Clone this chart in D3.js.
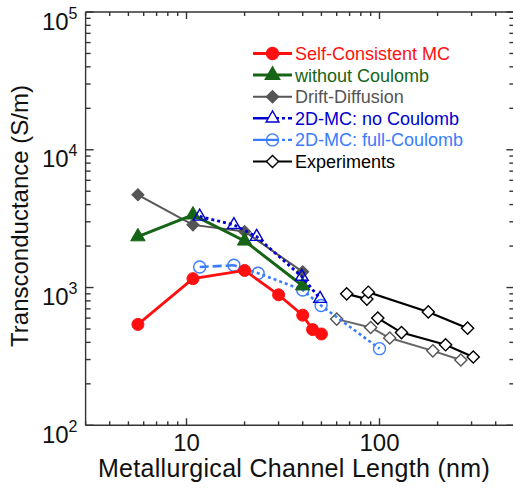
<!DOCTYPE html>
<html>
<head>
<meta charset="utf-8">
<script src="https://cdn.jsdelivr.net/npm/d3@7"></script>
<style>
  body { margin: 0; background: #fff; }
  svg { display: block; font-family: Arial, "Liberation Sans", sans-serif; }
</style>
</head>
<body>
<svg width="513" height="493"></svg>
<script>
const width = 513, height = 493;
const svg = d3.select("svg");

// series
const scX = [5.6, 10.8, 20, 30, 40, 45, 50];
const scY = [540, 1160, 1330, 885, 630, 495, 460];
const woX = [5.6, 10.8, 20, 40];
const woY = [2340, 3370, 2180, 1030];
const ddX = [5.6, 10.8, 20, 40];
const ddY = [4710, 2850, 2550, 1300];
const mcNoX = [11.7, 17.6, 23.1, 39.6, 49.2];
const mcNoY = [3280, 2850, 2340, 1200, 830];
const mcFullX = [11.7, 17.6, 23.5, 40, 49.8, 100];
const mcFullY = [1410, 1450, 1270, 960, 740, 360];
const expAX = [67.6, 86, 87.5, 179, 286];
const expAY = [900, 824, 925, 665, 507];
const expBX = [98, 130, 220, 306];
const expBY = [600, 471, 384, 313];
const expCX = [60, 90, 113, 189, 264];
const expCY = [590, 513, 430, 347, 298];

const legendLabels = ["Self-Consistent MC", "without Coulomb", "Drift-Diffusion",
  "2D-MC: no Coulomb", "2D-MC: full-Coulomb", "Experiments"];
const xTickLabels = ["10", "100"];
const yTickExps = [2, 3, 4, 5];

// scales
const x = d3.scaleLog().domain([3, 500]).range([85.6, 514.4]);
const y = d3.scaleLog().domain([100, 100000]).range([425.3, 12]);

const zip = (xs, ys) => xs.map((v, i) => [v, ys[i]]);
const line = d3.line().x(d => x(d[0])).y(d => y(d[1]));

// minor + major tick values
function logTicks(lo, hi) {
  const out = [];
  for (let e = Math.floor(Math.log10(lo)); e <= Math.ceil(Math.log10(hi)); e++) {
    for (let m = 1; m <= 9; m++) {
      const v = m * Math.pow(10, e);
      if (v >= lo * 0.999 && v <= hi * 1.001) out.push(v);
    }
  }
  return out;
}
const isMajor = v => Math.abs(Math.log10(v) - Math.round(Math.log10(v))) < 1e-9;

const axisColor = "#333";
const frame = svg.append("g").attr("stroke", axisColor).attr("stroke-width", 1.4);
const [x0, x1] = x.range(), [y1, y0] = y.range();
frame.append("line").attr("x1", x0).attr("x2", x1).attr("y1", y1).attr("y2", y1);
frame.append("line").attr("x1", x0).attr("x2", x1).attr("y1", y0).attr("y2", y0);
frame.append("line").attr("x1", x0).attr("x2", x0).attr("y1", y0).attr("y2", y1);
frame.append("line").attr("x1", x1).attr("x2", x1).attr("y1", y0).attr("y2", y1);

logTicks(3, 500).forEach(v => {
  const len = isMajor(v) ? 7 : 4;
  frame.append("line").attr("x1", x(v)).attr("x2", x(v)).attr("y1", y1).attr("y2", y1 - len);
  frame.append("line").attr("x1", x(v)).attr("x2", x(v)).attr("y1", y0).attr("y2", y0 + len);
});
logTicks(100, 100000).forEach(v => {
  const len = isMajor(v) ? 8 : 5;
  frame.append("line").attr("x1", x0).attr("x2", x0 + len).attr("y1", y(v)).attr("y2", y(v));
  frame.append("line").attr("x1", x1).attr("x2", x1 - len).attr("y1", y(v)).attr("y2", y(v));
});

// tick labels
svg.append("g").selectAll("text").data(xTickLabels).join("text")
  .attr("x", d => x(+d)).attr("y", 451)
  .attr("text-anchor", "middle").attr("font-size", 24).attr("fill", "#111")
  .text(d => d);

const yl = svg.append("g").selectAll("text").data(yTickExps).join("text")
  .attr("x", 77.5).attr("y", d => y(Math.pow(10, d)) + 17.5)
  .attr("text-anchor", "end").attr("font-size", 24).attr("fill", "#111");
yl.append("tspan").text("10");
yl.append("tspan").attr("font-size", 16).attr("dy", -11).text(d => d);

// axis titles
svg.append("text").attr("x", 294).attr("y", 477).attr("text-anchor", "middle")
  .attr("font-size", 25).attr("letter-spacing", 0.3).attr("fill", "#111")
  .text("Metallurgical Channel Length (nm)");
svg.append("text").attr("transform", "translate(28,216) rotate(-90)")
  .attr("text-anchor", "middle").attr("font-size", 24).attr("fill", "#111")
  .text("Transconductance (S/m)");

// marker helpers
const tri = d3.symbol().type(d3.symbolTriangle);
const sq = d3.symbol().type(d3.symbolSquare).size(74);

function drawMarkers(g, pts, kind, opt) {
  const sel = g.selectAll(null).data(pts).join(kind === "circle" ? "circle" : "path");
  if (kind === "circle") {
    sel.attr("cx", d => x(d[0])).attr("cy", d => y(d[1])).attr("r", opt.r);
  } else if (kind === "tri") {
    sel.attr("d", tri.size(opt.size)()).attr("transform", d => `translate(${x(d[0])},${y(d[1])})`);
  } else {
    sel.attr("d", sq()).attr("transform", d => `translate(${x(d[0])},${y(d[1])}) rotate(45)`);
  }
  sel.attr("fill", opt.fill).attr("stroke", opt.stroke).attr("stroke-width", opt.sw);
}

const series = [
  { pts: zip(expCX, expCY), color: "#666", w: 2, dash: null, kind: "dia", fill: "#fff", mstroke: "#555", msw: 1.4 },
  { pts: zip(expBX, expBY), color: "#000", w: 2.2, dash: null, kind: "dia", fill: "#fff", mstroke: "#000", msw: 1.4 },
  { pts: zip(expAX, expAY), color: "#000", w: 2.2, dash: null, kind: "dia", fill: "#fff", mstroke: "#000", msw: 1.4 },
  { pts: zip(ddX, ddY), color: "#555", w: 2, dash: null, kind: "dia", fill: "#555", mstroke: "#555", msw: 1 },
  { pts: zip(mcFullX, mcFullY), color: "#3a7cff", w: 2.6, dash: "3,3", firstDash: "9,4", kind: "circle", r: 6, fill: "none", mstroke: "#3a7cff", msw: 1.4 },
  { pts: zip(woX, woY), color: "#166416", w: 3, dash: null, kind: "tri", size: 90, fill: "#166416", mstroke: "#166416", msw: 1 },
  { pts: zip(mcNoX, mcNoY), color: "#0000d0", w: 2.8, dash: "3,3", kind: "tri", size: 70, fill: "none", mstroke: "#0000d0", msw: 1.4 },
  { pts: zip(scX, scY), color: "#ff1010", w: 2.8, dash: null, kind: "circle", r: 6, fill: "#ff1010", mstroke: "#ff1010", msw: 1 }
];

const plot = svg.append("g");
series.forEach(s => {
  const g = plot.append("g");
  if (s.firstDash) {
    // first segment drawn with longer dashes, like the reference
    g.append("path").attr("d", line(s.pts.slice(0, 2))).attr("fill", "none")
      .attr("stroke", s.color).attr("stroke-width", s.w).attr("stroke-dasharray", s.firstDash);
    g.append("path").attr("d", line(s.pts.slice(1))).attr("fill", "none")
      .attr("stroke", s.color).attr("stroke-width", s.w).attr("stroke-dasharray", s.dash);
  } else {
    g.append("path").attr("d", line(s.pts)).attr("fill", "none")
      .attr("stroke", s.color).attr("stroke-width", s.w)
      .attr("stroke-dasharray", s.dash);
  }
  drawMarkers(g, s.pts, s.kind, { r: s.r, size: s.size, fill: s.fill, stroke: s.mstroke, sw: s.msw });
});

// legend
const legendStyles = [
  { color: "#ff1010", w: 2.8, dash: null, kind: "circle", r: 6, fill: "#ff1010", text: "#ff1010" },
  { color: "#166416", w: 3, dash: null, kind: "tri", size: 90, fill: "#166416", text: "#166416" },
  { color: "#555", w: 2, dash: null, kind: "dia", fill: "#555", text: "#555" },
  { color: "#0000d0", w: 2.4, dash: "26,3,3,3", kind: "tri", size: 70, fill: "#fff", text: "#0000d0" },
  { color: "#3a7cff", w: 2.4, dash: "26,3,3,3", kind: "circle", r: 6, fill: "none", text: "#3a7cff" },
  { color: "#000", w: 2.2, dash: null, kind: "dia", fill: "#fff", text: "#000" }
];
const legend = svg.append("g");
legendLabels.forEach((lab, i) => {
  const st = legendStyles[i];
  const cy = 53.5 + i * 21.6;
  const g = legend.append("g");
  g.append("line").attr("x1", 253).attr("x2", 292).attr("y1", cy).attr("y2", cy)
    .attr("stroke", st.color).attr("stroke-width", st.w).attr("stroke-dasharray", st.dash);
  const m = st.kind === "circle" ? g.append("circle").attr("cx", 272.5).attr("cy", cy).attr("r", st.r)
    : g.append("path").attr("d", st.kind === "tri" ? tri.size(st.size)() : sq())
        .attr("transform", `translate(272.5,${cy})` + (st.kind === "dia" ? " rotate(45)" : ""));
  m.attr("fill", st.fill).attr("stroke", st.color).attr("stroke-width", 1.4);
  g.append("text").attr("x", 295).attr("y", cy + 6.5).attr("font-size", 18)
    .attr("fill", st.text).text(lab);
});
</script>
</body>
</html>
